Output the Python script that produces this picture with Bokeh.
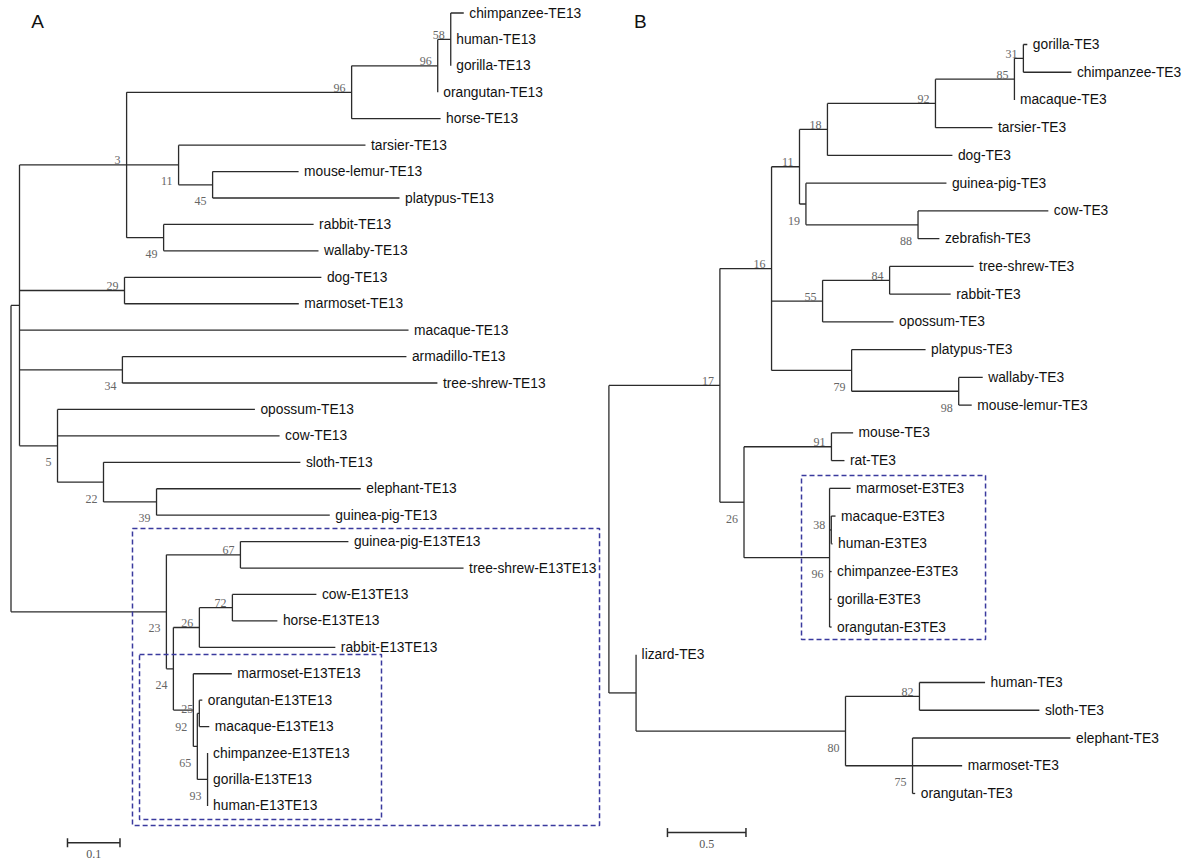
from bokeh.plotting import figure
from bokeh.models import Range1d, ColumnDataSource
from bokeh.core.properties import value
from bokeh.embed import file_html
from bokeh.resources import INLINE

# ---------------- Panel A data (node, parent, branch length, bootstrap) ----------------
a_nodes = ["rA", "a1", "a2", "a3", "a4", "a5",
           "chimpanzee-TE13", "human-TE13", "gorilla-TE13", "orangutan-TE13", "horse-TE13",
           "a6", "tarsier-TE13", "a7", "mouse-lemur-TE13", "platypus-TE13",
           "a8", "rabbit-TE13", "wallaby-TE13",
           "a9", "dog-TE13", "marmoset-TE13", "macaque-TE13",
           "a10", "armadillo-TE13", "tree-shrew-TE13",
           "a11", "opossum-TE13", "cow-TE13", "a12", "sloth-TE13", "a13", "elephant-TE13", "guinea-pig-TE13",
           "a14", "a15", "guinea-pig-E13TE13", "tree-shrew-E13TE13",
           "a16", "a17", "a18", "cow-E13TE13", "horse-E13TE13", "rabbit-E13TE13",
           "a19", "marmoset-E13TE13", "a20", "a21", "orangutan-E13TE13", "macaque-E13TE13",
           "a22", "chimpanzee-E13TE13", "gorilla-E13TE13", "human-E13TE13"]
a_parents = [None, "rA", "a1", "a2", "a3", "a4",
             "a5", "a5", "a5", "a4", "a3",
             "a2", "a6", "a6", "a7", "a7",
             "a2", "a8", "a8",
             "a1", "a9", "a9", "a1",
             "a1", "a10", "a10",
             "a1", "a11", "a11", "a11", "a12", "a12", "a13", "a13",
             "rA", "a14", "a15", "a15",
             "a14", "a16", "a17", "a18", "a18", "a17",
             "a16", "a19", "a19", "a20", "a21", "a21",
             "a20", "a22", "a22", "a22"]
a_lengths = [0.0, 0.0162, 0.204, 0.4286, 0.164, 0.0248,
             0.0248, 0.0, 0.0, 0.0, 0.1695,
             0.099, 0.356, 0.0648, 0.1638, 0.356,
             0.0705, 0.2857, 0.295,
             0.2, 0.375, 0.332, 0.741,
             0.196, 0.541, 0.6,
             0.0724, 0.376, 0.423, 0.0876, 0.375, 0.101, 0.389, 0.33,
             0.296, 0.141, 0.2057, 0.425,
             0.0133, 0.0495, 0.0629, 0.16, 0.0857, 0.259,
             0.038, 0.0733, 0.0076, 0.0038, 0.0057, 0.019,
             0.0195, 0.0, 0.0, 0.0]
a_support = {"a2": "3", "a3": "96", "a4": "96", "a5": "58", "a6": "11", "a7": "45", "a8": "49",
             "a9": "29", "a10": "34", "a11": "5", "a12": "22", "a13": "39", "a14": "23",
             "a15": "67", "a16": "24", "a17": "26", "a18": "72", "a19": "92", "a20": "65",
             "a21": "25", "a22": "93"}
a_scale = 0.1

# ---------------- Panel B data ----------------
b_nodes = ["rB", "b17", "b16", "b11", "b18", "b92", "b85", "b31",
           "gorilla-TE3", "chimpanzee-TE3", "macaque-TE3", "tarsier-TE3", "dog-TE3",
           "b19", "guinea-pig-TE3", "b88", "cow-TE3", "zebrafish-TE3",
           "b55", "b84", "tree-shrew-TE3", "rabbit-TE3", "opossum-TE3",
           "b79", "platypus-TE3", "b98", "wallaby-TE3", "mouse-lemur-TE3",
           "b26", "b91", "mouse-TE3", "rat-TE3",
           "b96", "marmoset-E3TE3", "b38", "macaque-E3TE3", "human-E3TE3",
           "chimpanzee-E3TE3", "gorilla-E3TE3", "orangutan-E3TE3",
           "bL", "lizard-TE3", "b80", "b82", "human-TE3", "sloth-TE3",
           "b75", "elephant-TE3", "marmoset-TE3", "orangutan-TE3"]
b_parents = [None, "rB", "b17", "b16", "b11", "b18", "b92", "b85",
             "b31", "b31", "b85", "b92", "b18",
             "b11", "b19", "b19", "b88", "b88",
             "b16", "b55", "b84", "b84", "b55",
             "b16", "b79", "b79", "b98", "b98",
             "b17", "b26", "b91", "b91",
             "b26", "b96", "b96", "b38", "b38",
             "b96", "b96", "b96",
             "rB", "bL", "bL", "b80", "b82", "b82",
             "b80", "b75", "b75", "b75"]
b_lengths = [0.0, 0.707, 0.329, 0.178, 0.178, 0.688, 0.503, 0.057,
             0.025, 0.306, 0.0, 0.363, 0.796,
             0.041, 0.895, 0.714, 0.83, 0.136,
             0.325, 0.427, 0.535, 0.389, 0.452,
             0.51, 0.471, 0.682, 0.153, 0.083,
             0.1535, 0.557, 0.138, 0.083,
             0.545, 0.134, 0.011, 0.027, 0.008,
             0.013, 0.013, 0.013,
             0.173, 0.0, 1.334, 0.471, 0.418, 0.764,
             0.427, 1.006, 0.316, 0.017]
b_support = {"b17": "17", "b16": "16", "b11": "11", "b18": "18", "b92": "92", "b85": "85",
             "b31": "31", "b19": "19", "b88": "88", "b55": "55", "b84": "84", "b79": "79",
             "b98": "98", "b26": "26", "b91": "91", "b96": "96", "b38": "38", "b80": "80",
             "b82": "82", "b75": "75"}
b_scale = 0.5

# label placement style (above / below the node)
a_below = {"a6", "a7", "a8", "a10", "a11", "a12", "a13", "a14", "a16", "a19", "a20", "a22"}
b_below = {"b19", "b88", "b79", "b98", "b26", "b96", "b80", "b75"}

LINE = "#2b2b2b"
BOX = "#3a3a9e"
SANS = value("Liberation Sans")
SERIF = value("Liberation Serif")
W, H = 1200, 865


def layout(nodes, parents, lengths):
    children = {n: [] for n in nodes}
    for n, pa in zip(nodes, parents):
        if pa is not None:
            children[pa].append(n)
    x = {}
    for n, pa, ln in zip(nodes, parents, lengths):
        x[n] = 0.0 if pa is None else x[pa] + ln
    y = {}
    leaves = [n for n in nodes if not children[n]]
    for i, n in enumerate(leaves):
        y[n] = float(i)
    for n in reversed(nodes):
        if children[n]:
            y[n] = (y[children[n][0]] + y[children[n][-1]]) / 2.0
    return children, x, y, leaves


def ranges(px_unit, px_leaf, root_px, first_leaf_px):
    xs = -root_px / px_unit
    xr = Range1d(xs, xs + W / px_unit)
    top = -first_leaf_px / px_leaf
    yr = Range1d(top + H / px_leaf, top)
    return xr, yr


def draw_panel(p, rn, nodes, parents, lengths, support, below, px_leaf,
               letter, letter_pos, scalebar, boxes):
    kw = dict(x_range_name=rn, y_range_name=rn)
    children, x, y, leaves = layout(nodes, parents, lengths)

    x0, y0, x1, y1 = [], [], [], []
    for n, pa in zip(nodes, parents):
        if pa is not None:
            x0.append(x[pa]); y0.append(y[n]); x1.append(x[n]); y1.append(y[n])
        if children[n]:
            x0.append(x[n]); y0.append(y[children[n][0]])
            x1.append(x[n]); y1.append(y[children[n][-1]])
    p.segment(x0=x0, y0=y0, x1=x1, y1=y1, line_color=LINE, line_width=1.3, **kw)

    # leaf labels
    src = ColumnDataSource(dict(x=[x[n] for n in leaves], y=[y[n] for n in leaves], t=leaves))
    p.text(x="x", y="y", text="t", source=src, x_offset=5.5, text_baseline="middle",
           text_align="left", text_font=SANS, text_font_size="13.8px", text_color="#111111", **kw)

    # bootstrap values
    for side, yoff in (("above", -4.5), ("below", 16.5)):
        sel = [n for n in nodes if n in support and ((n in below) == (side == "below"))]
        s = ColumnDataSource(dict(x=[x[n] for n in sel], y=[y[n] for n in sel],
                                  t=[support[n] for n in sel]))
        p.text(x="x", y="y", text="t", source=s, x_offset=-6, y_offset=yoff,
               text_align="right", text_baseline="alphabetic", text_font=SERIF,
               text_font_size="12px", text_color="#666666", **kw)

    # dashed boxes
    for (l0, l1, left, right, padt, padb) in boxes:
        p.quad(left=[left], right=[right], top=[y[l0] - padt], bottom=[y[l1] + padb],
               fill_color=None, line_color=BOX, line_width=1.5, line_dash="5 3", **kw)

    # scale bar
    sb_x, sb_y, sb_len = scalebar
    tick = 4.5 / px_leaf
    p.segment(x0=[sb_x, sb_x, sb_x + sb_len], y0=[sb_y, sb_y - tick, sb_y - tick],
              x1=[sb_x + sb_len, sb_x, sb_x + sb_len], y1=[sb_y, sb_y + tick, sb_y + tick],
              line_color=LINE, line_width=1.5, **kw)
    p.text(x=[sb_x + sb_len / 2], y=[sb_y], text=[str(sb_len)], y_offset=7,
           text_align="center", text_baseline="top", text_font=SERIF,
           text_font_size="12px", text_color="#555555", **kw)

    # panel letter
    p.text(x=[letter_pos[0]], y=[letter_pos[1]], text=[letter], text_align="center",
           text_baseline="middle", text_font=SANS, text_font_size="19px", text_color="#111111", **kw)


pA_unit, pA_leaf = 525.0, 26.43
pB_unit, pB_leaf = 157.0, 27.74

xa, ya = ranges(pA_unit, pA_leaf, 10.5, 12.5)
xb, yb = ranges(pB_unit, pB_leaf, 608.4, 44.0)

p = figure(width=W, height=H, x_range=xa, y_range=ya,
           x_axis_type=None, y_axis_type=None, toolbar_location=None,
           output_backend="svg", min_border=0)
p.extra_x_ranges = {"B": xb}
p.extra_y_ranges = {"B": yb}
p.outline_line_color = None
p.xgrid.visible = False
p.ygrid.visible = False

draw_panel(p, "default", a_nodes, a_parents, a_lengths, a_support, a_below, pA_leaf,
           "A", (0.0505, 0.32), (0.1076, 31.39, a_scale),
           [("guinea-pig-E13TE13", "human-E13TE13", 0.2314, 1.121, 0.5, 0.74),
            ("marmoset-E13TE13", "human-E13TE13", 0.2448, 0.7057, 0.73, 0.51)])
draw_panel(p, "B", b_nodes, b_parents, b_lengths, b_support, b_below, pB_leaf,
           "B", (0.201, -0.83), (0.373, 28.41, b_scale),
           [("marmoset-E3TE3", "orangutan-E3TE3", 1.2268, 2.399, 0.46, 0.45)])

open("out.html", "w").write(file_html(p, INLINE))
